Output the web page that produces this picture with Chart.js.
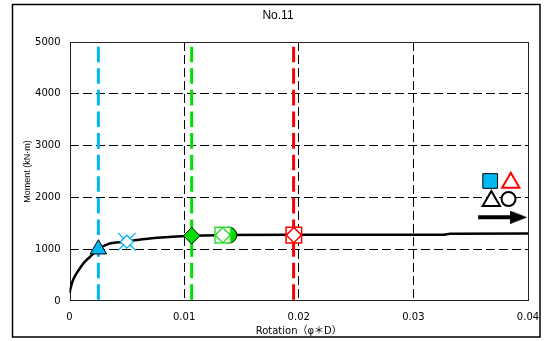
<!DOCTYPE html>
<html><head><meta charset="utf-8">
<script src="https://cdn.jsdelivr.net/npm/chart.js@4/dist/chart.umd.min.js"></script>
<style>html,body{margin:0;padding:0;background:#fff}#wrap{width:545px;height:341px;position:relative}</style>
</head><body><div id="wrap"><canvas id="c"></canvas></div>
<script>
// ---- text ----
const chartTitle = 'No.11';
const xAxisTitle = 'Rotation（φ＊D）';
const yAxisTitle = 'Moment (kN·m)';
// ---- ticks ----
const xTicks = [0, 0.01, 0.02, 0.03, 0.04];
const xTickLabels = ['0', '0.01', '0.02', '0.03', '0.04'];
const yTicks = [0, 1000, 2000, 3000, 4000, 5000];
const yTickLabels = ['0', '1000', '2000', '3000', '4000', '5000'];
// ---- main curve ----
const curveX = [0, 0.0001, 0.0003, 0.0006, 0.0009, 0.0013, 0.0018, 0.00252, 0.0033, 0.005, 0.0059, 0.008, 0.01066, 0.0134, 0.0196, 0.025, 0.0326, 0.0332, 0.04];
const curveY = [150, 250, 400, 530, 630, 750, 855, 1000, 1094, 1145, 1178, 1225, 1260, 1272, 1280, 1280, 1280, 1300, 1302];
// ---- vertical limit lines (x, top, bottom) ----
const cyanLineX = 0.00252;
const greenLineX = 0.01066;
const redLineX = 0.01955;
const limitLineY = [4910, 0];
// ---- markers on the curve ----
const cyanTriangle = [0.00252, 1000];
const cyanStar = [0.005, 1145];
const greenDiamond = [0.01066, 1260];
const greenSquare = [0.01337, 1272];
const greenCircle = [0.0139, 1272];
const redSquare = [0.01957, 1272];
// ---- legend symbols ----
const legCyanSquare = [0.0367, 2317];
const legRedTriangle = [0.0385, 2284];
const legBlackTriangle = [0.0368, 1931];
const legBlackCircle = [0.0383, 1969];
const arrowX = [0.03565, 0.0390];
const arrowHeadX = 0.0392;
const arrowY = 1616;

const CYAN = '#00B8F0', GREEN = '#00DD00', GREEN2 = '#33DD33', RED = '#FF0000';

const headCanvas = document.createElement('canvas');
headCanvas.width = 17; headCanvas.height = 13;
(function(){const g = headCanvas.getContext('2d'); g.fillStyle = '#000'; g.beginPath(); g.moveTo(0,0); g.lineTo(17,6.5); g.lineTo(0,13); g.closePath(); g.fill();})();

function pt(a){ return [{x: a[0], y: a[1]}]; }
function marker(a, style, r, bg, bc, bw, order){
  return {type:'scatter', data: pt(a), pointStyle: style, pointRadius: r, pointHoverRadius: r,
    backgroundColor: bg, borderColor: bc, pointBorderWidth: bw, borderWidth: bw, order: order};
}
function vline(x, color){
  return {type:'line', data:[{x:x, y:limitLineY[0]},{x:x, y:limitLineY[1]}], borderColor: color,
    borderWidth: 3, borderDash:[15.6, 6], pointRadius: 0, fill:false, order: 30};
}

const datasets = [
  vline(cyanLineX, CYAN), vline(greenLineX, GREEN), vline(redLineX, RED),
  {type:'line', data: curveX.map((x,i)=>({x:x, y:curveY[i]})), borderColor:'#000', borderWidth:2.5,
    pointRadius:0, cubicInterpolationMode:'monotone', fill:false, order: 20},
  marker(cyanTriangle, 'triangle', 9.5, CYAN, '#000', 1, 5),
  marker(cyanStar, 'crossRot', 12.5, CYAN, CYAN, 1.3, 6),
  marker(cyanStar, 'rectRot', 6.5, '#fff', CYAN, 1.3, 5),
  marker(greenDiamond, 'rectRot', 8.3, GREEN, '#000', 1, 5),
  marker(greenCircle, 'circle', 8, GREEN, '#000', 1, 8),
  marker(greenSquare, 'rect', 11, '#fff', GREEN2, 1.5, 7),
  marker(greenSquare, 'rectRot', 7.6, '#fff', GREEN2, 1.5, 6),
  marker(redSquare, 'rect', 11, '#fff', RED, 1.5, 7),
  marker(redSquare, 'rectRot', 7.6, '#fff', RED, 1.5, 6),
  marker(legCyanSquare, 'rect', 10.4, CYAN, '#000', 1, 5),
  marker(legRedTriangle, 'triangle', 10, '#fff', RED, 2, 5),
  marker(legBlackTriangle, 'triangle', 10, '#fff', '#000', 2, 5),
  marker(legBlackCircle, 'circle', 7, '#fff', '#000', 2, 5),
  {type:'line', data: arrowX.map(x=>({x:x, y:arrowY})), borderColor:'#000', borderWidth:4, pointRadius:0, order: 5},
  {type:'scatter', data:[{x:arrowHeadX, y:arrowY}], pointStyle: headCanvas, order: 4}
];

const framePlugin = {
  id:'frame',
  beforeDatasetsDraw(chart){
    const {ctx, chartArea:a} = chart;
    ctx.save(); ctx.strokeStyle = '#222'; ctx.lineWidth = 1;
    ctx.strokeRect(Math.round(a.left)+0.5, Math.round(a.top)+0.5, Math.round(a.right-a.left)-1, Math.round(a.bottom-a.top)-1);
    ctx.restore();
  },
  afterDraw(chart){
    const ctx = chart.ctx;
    ctx.save();
    ctx.strokeStyle = '#000'; ctx.lineWidth = 1.5;
    ctx.strokeRect(12.5, 4.5, 527.5, 332.5);
    ctx.fillStyle = '#000'; ctx.font = '12px "Liberation Sans", Arial, sans-serif';
    ctx.textAlign = 'center'; ctx.textBaseline = 'middle';
    ctx.fillText(chartTitle, 278, 15.5);
    ctx.restore();
  }
};

const tickFont = {family:'"DejaVu Sans", sans-serif', size:10};
const clear = 'rgba(0,0,0,0)';
new Chart(document.getElementById('c'), {
  data: {datasets},
  plugins: [framePlugin],
  options: {
    responsive: true, maintainAspectRatio: false, animation: false,
    devicePixelRatio: 1,
    layout: {padding: {left: 0, right: 17, top: 42, bottom: 0}},
    plugins: {legend:{display:false}, tooltip:{enabled:false}, title:{display:false}},
    scales: {
      x: {type:'linear', min:0, max:0.04,
        afterBuildTicks: s => { s.ticks = xTicks.map(v=>({value:v})); },
        afterFit: s => { s.height = 40; },
        ticks: {font: tickFont, color:'#000', padding: 0, maxRotation:0, autoSkip:false,
          callback: (v, i) => xTickLabels[i]},
        grid: {drawTicks:true, tickLength:10, tickColor: clear, lineWidth:1,
          color: c => (c.tick && (c.tick.value === 0 || c.tick.value === 0.04)) ? clear : '#000'},
        border: {display:false, dash:[9,4]},
        title: {display:true, text: xAxisTitle, color:'#000', font:{family:'"DejaVu Sans", "Noto Sans CJK JP", sans-serif', size:10}, padding:{top:0, bottom:4}}
      },
      y: {type:'linear', min:0, max:5000,
        afterBuildTicks: s => { s.ticks = yTicks.map(v=>({value:v})); },
        afterFit: s => { s.width = 69.5; },
        ticks: {font: tickFont, color:'#000', padding: 0, autoSkip:false,
          callback: (v, i) => yTickLabels[i]},
        grid: {drawTicks:true, tickLength:9, tickColor: clear, lineWidth:1,
          color: c => (c.tick && (c.tick.value === 0 || c.tick.value === 5000)) ? clear : '#000'},
        border: {display:false, dash:[9,4]},
        title: {display:true, text: yAxisTitle, color:'#000', font:{family:'"Liberation Sans", sans-serif', size:9}, padding:{top:22, bottom:0}}
      }
    }
  }
});
</script></body></html>
